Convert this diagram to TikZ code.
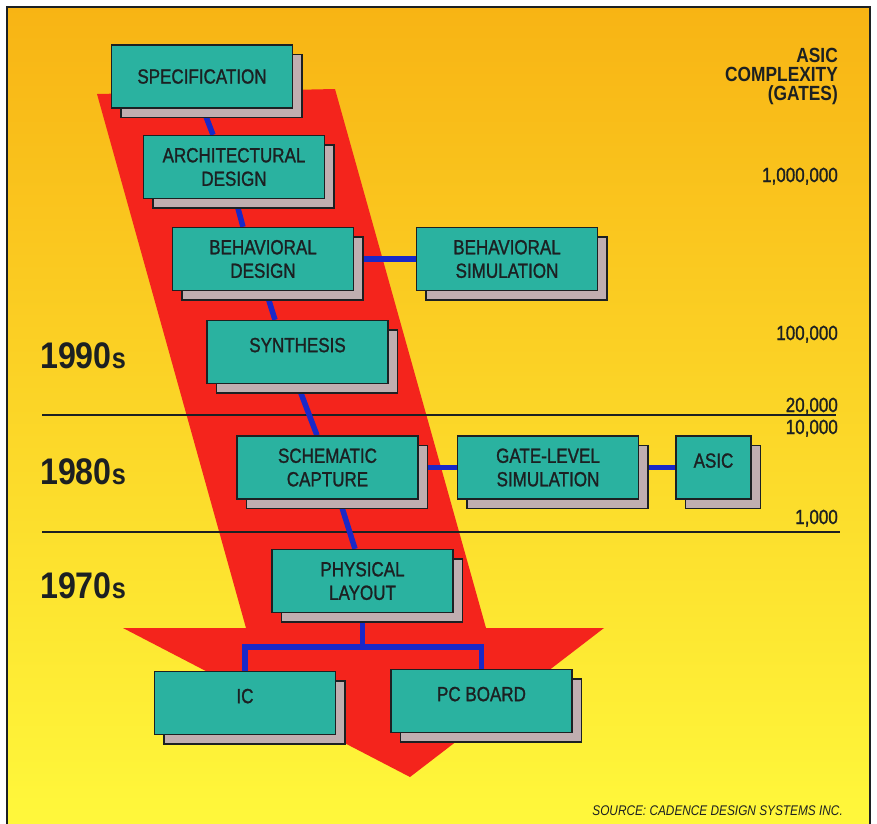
\documentclass[tikz,border=0pt]{standalone}
\usepackage{fontspec}
\setmainfont{Liberation Sans}[FakeStretch=0.845]
\newfontfamily\boxfont{Liberation Sans}[FakeStretch=0.83,FakeBold=1.2]
\newfontfamily\yearfont{Liberation Sans}[FakeStretch=0.87]
\usetikzlibrary{shadows,calc}
\definecolor{bgtop}{RGB}{248,180,20}
\definecolor{bgmid}{RGB}{255,220,30}
\definecolor{bgbot}{RGB}{255,249,60}
\definecolor{arrowred}{RGB}{244,36,28}
\definecolor{boxteal}{RGB}{42,178,160}
\definecolor{shadowgrey}{RGB}{192,174,176}
\definecolor{connblue}{RGB}{25,40,200}
\definecolor{inkc}{RGB}{28,32,34}
\pgfdeclarelayer{bglayer}
\pgfdeclarelayer{rulelayer}
\pgfdeclarelayer{connlayer}
\pgfsetlayers{bglayer,rulelayer,connlayer,main}
\begin{document}
\begin{tikzpicture}[x=1pt,y=-1pt,
  box/.style={draw=inkc, line width=1.3pt, fill=boxteal, minimum width=181pt,
    minimum height=63pt, inner sep=0pt, align=center, text=inkc,
    font=\boxfont\fontsize{20.5}{23.5}\selectfont,
    copy shadow={shadow xshift=9.5pt, shadow yshift=-9.5pt, fill=shadowgrey, draw=inkc, line width=1.3pt}},
  raised/.style={text depth=14pt},
  conn/.style={draw=connblue, line width=5.5pt},
  rule/.style={draw=inkc, line width=1.4pt},
  year/.style={anchor=base west, inner sep=0pt, text=inkc, font=\yearfont\bfseries\fontsize{37}{37}\selectfont},
  gates/.style={anchor=base east, inner sep=0pt, text=inkc, font=\boxfont\fontsize{20.5}{20.5}\selectfont}]
\useasboundingbox (0,0) rectangle (877,823);
\clip (0,0) rectangle (877,823);
\begin{pgfonlayer}{bglayer}
  \fill[white] (0,0) rectangle (877,823);
  \shade[top color=bgtop, middle color=bgmid, bottom color=bgbot] (7,7) rectangle (870,840);
  \draw[line width=1.8pt, draw=inkc] (7,840) -- (7,7) -- (870,7) -- (870,840);
  \fill[arrowred] (97,94) -- (335,89) -- (486,628) -- (604,628) -- (410,777)
      -- (123,628) -- (246,628) -- cycle;
\end{pgfonlayer}
\begin{pgfonlayer}{rulelayer}
  \coordinate (r1a) at (42,415); \coordinate (r1b) at (836,415);
  \coordinate (r2a) at (42,532); \coordinate (r2b) at (840,532);
  \draw[rule] (r1a) -- (r1b);
  \draw[rule] (r2a) -- (r2b);
\end{pgfonlayer}

\node[box] (spec) at (202,76.5) {SPECIFICATION};
\node[box] (arch) at (234,167) {ARCHITECTURAL\\DESIGN};
\node[box] (bdes) at (263,259) {BEHAVIORAL\\DESIGN};
\node[box] (bsim) at (507,259) {BEHAVIORAL\\SIMULATION};
\node[box,raised] (synth) at (297.5,352) {SYNTHESIS};
\node[box] (schem) at (327.5,467.5) {SCHEMATIC\\CAPTURE};
\node[box] (gate) at (548,467.5) {GATE-LEVEL\\SIMULATION};
\node[box,raised,minimum width=75pt] (asic) at (713.5,467.5) {ASIC};
\node[box] (phys) at (362.5,581) {PHYSICAL\\LAYOUT};
\node[box,raised] (ic) at (245,703) {IC};
\node[box,raised] (pcb) at (481.5,701) {PC BOARD};

\begin{pgfonlayer}{connlayer}
  \draw[conn] ($(spec.south)+(1,0)$) -- ($(arch.north)+(-21,0)$);
  \draw[conn] ($(arch.south)+(1.5,0)$) -- ($(bdes.north)+(-20,0)$);
  \draw[conn] ($(bdes.south)+(3,0)$) -- ($(synth.north)+(-22.5,0)$);
  \draw[conn] ($(synth.south)+(0,0)$) -- ($(schem.north)+(-10.5,0)$);
  \draw[conn] ($(schem.south)+(12,0)$) -- ($(phys.north)+(-7.5,0)$);
  \draw[conn] (bdes.east) -- (bsim.west);
  \draw[conn] (schem.east) -- (gate.west);
  \draw[conn] (gate.east) -- (asic.west);
  \draw[conn] (phys.south) -- ++(0,34) coordinate (split) -| (ic.north);
  \draw[conn] (split) -| (pcb.north);
\end{pgfonlayer}

\node[year] (y90) at (40,368) {1990{\fontsize{29}{29}\selectfont s}};
\node[year] (y80) at (40,484) {1980{\fontsize{29}{29}\selectfont s}};
\node[year] (y70) at (40,598) {1970{\fontsize{29}{29}\selectfont s}};

\node[anchor=north east, inner sep=0pt, align=right, text=inkc,
  font=\bfseries\fontsize{20.5}{19}\selectfont] (title) at (838,48) {ASIC\\COMPLEXITY\\(GATES)};
\node[gates] (g1m) at (838,182) {1,000,000};
\node[gates] (g100k) at (838,340) {100,000};
\node[gates] (g20k) at (838,412) {20,000};
\node[gates] (g10k) at (838,434) {10,000};
\node[gates] (g1k) at (838,524) {1,000};

\node[anchor=base east, inner sep=0pt, text=inkc, font=\itshape\fontsize{14}{14}\selectfont] (src)
  at (843,815) {SOURCE: CADENCE DESIGN SYSTEMS INC.};
\end{tikzpicture}
\end{document}
